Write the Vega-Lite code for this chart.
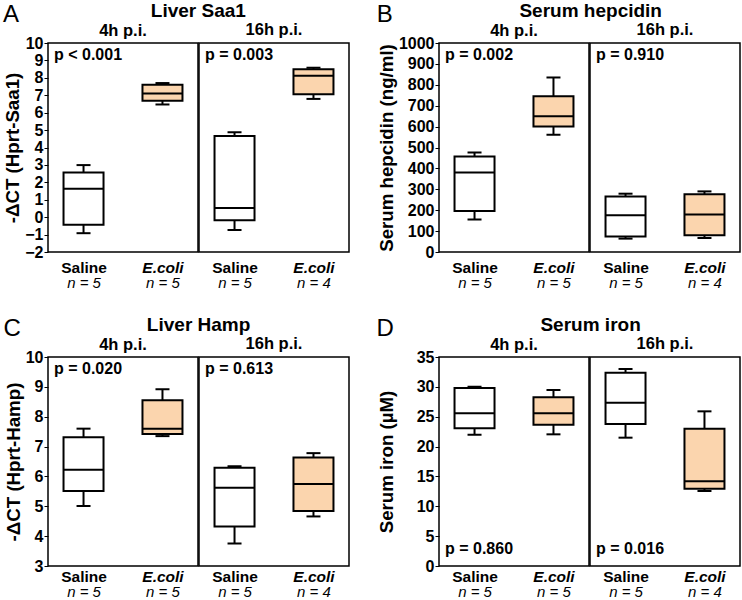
{
 "$schema": "https://vega.github.io/schema/vega-lite/v6.json",
 "padding": {"left": 3, "top": 1, "right": 0, "bottom": 0},
 "config": {
  "font": "Liberation Sans",
  "view": {"stroke": "black", "strokeWidth": 1.5},
  "axis": {"labelColor": "black", "titleColor": "black", "tickColor": "black", "grid": false},
  "title": {"color": "black"}
 },
 "datasets": {
  "boxes": [
   {"panel": "A", "time": "4h", "group": "Saline", "n": 5, "min": -0.92, "q1": -0.43, "median": 1.63, "q3": 2.57, "max": 2.99},
   {"panel": "A", "time": "4h", "group": "E.coli", "n": 5, "min": 6.47, "q1": 6.68, "median": 7.10, "q3": 7.60, "max": 7.70},
   {"panel": "A", "time": "16h", "group": "Saline", "n": 5, "min": -0.73, "q1": -0.18, "median": 0.53, "q3": 4.66, "max": 4.87},
   {"panel": "A", "time": "16h", "group": "E.coli", "n": 4, "min": 6.79, "q1": 7.06, "median": 8.12, "q3": 8.50, "max": 8.58},
   {"panel": "B", "time": "4h", "group": "Saline", "n": 5, "min": 155, "q1": 196, "median": 380, "q3": 457, "max": 476},
   {"panel": "B", "time": "4h", "group": "E.coli", "n": 5, "min": 561, "q1": 601, "median": 649, "q3": 745, "max": 835},
   {"panel": "B", "time": "16h", "group": "Saline", "n": 5, "min": 64, "q1": 74, "median": 176, "q3": 266, "max": 279},
   {"panel": "B", "time": "16h", "group": "E.coli", "n": 4, "min": 67, "q1": 80, "median": 179, "q3": 276, "max": 290},
   {"panel": "C", "time": "4h", "group": "Saline", "n": 5, "min": 5.01, "q1": 5.51, "median": 6.22, "q3": 7.31, "max": 7.60},
   {"panel": "C", "time": "4h", "group": "E.coli", "n": 5, "min": 7.35, "q1": 7.42, "median": 7.60, "q3": 8.55, "max": 8.92},
   {"panel": "C", "time": "16h", "group": "Saline", "n": 5, "min": 3.75, "q1": 4.32, "median": 5.62, "q3": 6.29, "max": 6.34},
   {"panel": "C", "time": "16h", "group": "E.coli", "n": 4, "min": 4.66, "q1": 4.84, "median": 5.75, "q3": 6.63, "max": 6.78},
   {"panel": "D", "time": "4h", "group": "Saline", "n": 5, "min": 22.0, "q1": 23.05, "median": 25.57, "q3": 29.8, "max": 30.0},
   {"panel": "D", "time": "4h", "group": "E.coli", "n": 5, "min": 22.05, "q1": 23.67, "median": 25.57, "q3": 28.25, "max": 29.47},
   {"panel": "D", "time": "16h", "group": "Saline", "n": 5, "min": 21.49, "q1": 23.78, "median": 27.35, "q3": 32.38, "max": 32.99},
   {"panel": "D", "time": "16h", "group": "E.coli", "n": 4, "min": 12.56, "q1": 12.95, "median": 14.18, "q3": 23.0, "max": 25.9}
  ],
  "pvals": [
   {"panel": "A", "time": "4h", "p": "p < 0.001"},
   {"panel": "A", "time": "16h", "p": "p = 0.003"},
   {"panel": "B", "time": "4h", "p": "p = 0.002"},
   {"panel": "B", "time": "16h", "p": "p = 0.910"},
   {"panel": "C", "time": "4h", "p": "p = 0.020"},
   {"panel": "C", "time": "16h", "p": "p = 0.613"},
   {"panel": "D", "time": "4h", "p": "p = 0.860"},
   {"panel": "D", "time": "16h", "p": "p = 0.016"}
  ]
 },
 "spacing": 23,
 "vconcat": [
  {"spacing": 26, "hconcat": [
   {"title": {"text": "A", "anchor": "start", "frame": "bounds", "fontSize": 24, "fontWeight": "normal", "dy": 29},
    "vconcat": [{"title": {"text": "Liver Saa1", "fontSize": 19, "fontWeight": "bold", "anchor": "middle", "offset": 0, "dx": 22},
     "spacing": -1.5,
     "hconcat": [
      {"width": 150, "height": 209, "title": {"text": "4h p.i.", "fontSize": 16.5, "fontWeight": "bold", "offset": -4},
       "data": {"name": "boxes"},
       "transform": [{"filter": "datum.panel == 'A' && datum.time == '4h'"}, {"calculate": "datum.group + '|n = ' + datum.n", "as": "xkey"}],
       "resolve": {"axis": {"x": "independent"}},
       "layer": [
        {"mark": {"type": "rule", "color": "black", "strokeWidth": 2},
         "encoding": {"x": {"field": "xkey", "type": "nominal", "sort": "descending", "scale": {"type": "point", "padding": 0.45}, "axis": {"orient": "bottom", "title": null, "ticks": false, "domain": false, "labelExpr": "split(datum.value, '|')[0]", "labelFontSize": 15.5, "labelFontWeight": "bold", "labelFontStyle": {"condition": {"test": "indexof(datum.value, 'E.coli') == 0", "value": "italic"}, "value": "normal"}, "labelPadding": 8, "labelAngle": 0}},
          "y": {"field": "min", "type": "quantitative", "scale": {"domain": [-2, 10], "nice": false, "zero": false}, "axis": {"title": "-ΔCT (Hprt-Saa1)", "titleFontSize": 18.7, "titleFontWeight": "bold", "titlePadding": 2, "values": [-2, -1, 0, 1, 2, 3, 4, 5, 6, 7, 8, 9, 10], "format": "d", "labelOverlap": false, "labelFontSize": 16, "labelFontWeight": "bold", "tickSize": 4, "domain": false, "labelPadding": 1}},
          "y2": {"field": "max"}}},
        {"mark": {"type": "bar", "size": 40, "stroke": "black", "strokeWidth": 2},
         "encoding": {"x": {"field": "xkey", "type": "nominal", "sort": "descending", "axis": {"orient": "bottom", "title": null, "ticks": false, "domain": false, "labelExpr": "split(datum.value, '|')[1]", "labelFontSize": 15, "labelFontStyle": "italic", "labelFontWeight": "normal", "labelPadding": 23.5, "labelAngle": 0}},
          "y": {"field": "q1", "type": "quantitative", "axis": {"title": "-ΔCT (Hprt-Saa1)", "titleFontSize": 18.7, "titleFontWeight": "bold", "titlePadding": 2, "values": [-2, -1, 0, 1, 2, 3, 4, 5, 6, 7, 8, 9, 10], "format": "d", "labelOverlap": false, "labelFontSize": 16, "labelFontWeight": "bold", "tickSize": 4, "domain": false, "labelPadding": 1}}, "y2": {"field": "q3"},
          "fill": {"field": "group", "type": "nominal", "scale": {"domain": ["Saline", "E.coli"], "range": ["#ffffff", "#fbd5ae"]}, "legend": null}}},
        {"mark": {"type": "tick", "size": 40, "thickness": 2, "color": "black", "opacity": 1},
         "encoding": {"x": {"field": "xkey", "type": "nominal", "sort": "descending", "axis": null}, "y": {"field": "median", "type": "quantitative", "axis": {"title": "-ΔCT (Hprt-Saa1)", "titleFontSize": 18.7, "titleFontWeight": "bold", "titlePadding": 2, "values": [-2, -1, 0, 1, 2, 3, 4, 5, 6, 7, 8, 9, 10], "format": "d", "labelOverlap": false, "labelFontSize": 16, "labelFontWeight": "bold", "tickSize": 4, "domain": false, "labelPadding": 1}}}},
        {"mark": {"type": "tick", "size": 14, "thickness": 2, "color": "black", "opacity": 1},
         "encoding": {"x": {"field": "xkey", "type": "nominal", "sort": "descending", "axis": null}, "y": {"field": "min", "type": "quantitative", "axis": {"title": "-ΔCT (Hprt-Saa1)", "titleFontSize": 18.7, "titleFontWeight": "bold", "titlePadding": 2, "values": [-2, -1, 0, 1, 2, 3, 4, 5, 6, 7, 8, 9, 10], "format": "d", "labelOverlap": false, "labelFontSize": 16, "labelFontWeight": "bold", "tickSize": 4, "domain": false, "labelPadding": 1}}}},
        {"mark": {"type": "tick", "size": 14, "thickness": 2, "color": "black", "opacity": 1},
         "encoding": {"x": {"field": "xkey", "type": "nominal", "sort": "descending", "axis": null}, "y": {"field": "max", "type": "quantitative", "axis": {"title": "-ΔCT (Hprt-Saa1)", "titleFontSize": 18.7, "titleFontWeight": "bold", "titlePadding": 2, "values": [-2, -1, 0, 1, 2, 3, 4, 5, 6, 7, 8, 9, 10], "format": "d", "labelOverlap": false, "labelFontSize": 16, "labelFontWeight": "bold", "tickSize": 4, "domain": false, "labelPadding": 1}}}},
        {"data": {"name": "pvals"}, "transform": [{"filter": "datum.panel == 'A' && datum.time == '4h'"}],
         "mark": {"type": "text", "align": "left", "baseline": "middle", "fontSize": 16, "fontWeight": "bold", "color": "black", "x": 6, "y": 12},
         "encoding": {"text": {"field": "p"}}}
       ]},
      {"width": 150, "height": 209, "title": {"text": "16h p.i.", "fontSize": 16.5, "fontWeight": "bold", "offset": 5},
       "data": {"name": "boxes"},
       "transform": [{"filter": "datum.panel == 'A' && datum.time == '16h'"}, {"calculate": "datum.group + '|n = ' + datum.n", "as": "xkey"}],
       "resolve": {"axis": {"x": "independent"}},
       "layer": [
        {"mark": {"type": "rule", "color": "black", "strokeWidth": 2},
         "encoding": {"x": {"field": "xkey", "type": "nominal", "sort": "descending", "scale": {"type": "point", "padding": 0.45}, "axis": {"orient": "bottom", "title": null, "ticks": false, "domain": false, "labelExpr": "split(datum.value, '|')[0]", "labelFontSize": 15.5, "labelFontWeight": "bold", "labelFontStyle": {"condition": {"test": "indexof(datum.value, 'E.coli') == 0", "value": "italic"}, "value": "normal"}, "labelPadding": 8, "labelAngle": 0}},
          "y": {"field": "min", "type": "quantitative", "scale": {"domain": [-2, 10], "nice": false, "zero": false}, "axis": null},
          "y2": {"field": "max"}}},
        {"mark": {"type": "bar", "size": 40, "stroke": "black", "strokeWidth": 2},
         "encoding": {"x": {"field": "xkey", "type": "nominal", "sort": "descending", "axis": {"orient": "bottom", "title": null, "ticks": false, "domain": false, "labelExpr": "split(datum.value, '|')[1]", "labelFontSize": 15, "labelFontStyle": "italic", "labelFontWeight": "normal", "labelPadding": 23.5, "labelAngle": 0}},
          "y": {"field": "q1", "type": "quantitative", "axis": null}, "y2": {"field": "q3"},
          "fill": {"field": "group", "type": "nominal", "scale": {"domain": ["Saline", "E.coli"], "range": ["#ffffff", "#fbd5ae"]}, "legend": null}}},
        {"mark": {"type": "tick", "size": 40, "thickness": 2, "color": "black", "opacity": 1},
         "encoding": {"x": {"field": "xkey", "type": "nominal", "sort": "descending", "axis": null}, "y": {"field": "median", "type": "quantitative", "axis": null}}},
        {"mark": {"type": "tick", "size": 14, "thickness": 2, "color": "black", "opacity": 1},
         "encoding": {"x": {"field": "xkey", "type": "nominal", "sort": "descending", "axis": null}, "y": {"field": "min", "type": "quantitative", "axis": null}}},
        {"mark": {"type": "tick", "size": 14, "thickness": 2, "color": "black", "opacity": 1},
         "encoding": {"x": {"field": "xkey", "type": "nominal", "sort": "descending", "axis": null}, "y": {"field": "max", "type": "quantitative", "axis": null}}},
        {"data": {"name": "pvals"}, "transform": [{"filter": "datum.panel == 'A' && datum.time == '16h'"}],
         "mark": {"type": "text", "align": "left", "baseline": "middle", "fontSize": 16, "fontWeight": "bold", "color": "black", "x": 6, "y": 12},
         "encoding": {"text": {"field": "p"}}}
       ]}
     ]}]},
   {"title": {"text": "B", "anchor": "start", "frame": "bounds", "fontSize": 24, "fontWeight": "normal", "dy": 29},
    "vconcat": [{"title": {"text": "Serum hepcidin", "fontSize": 19, "fontWeight": "bold", "anchor": "middle", "offset": 0, "dx": 32},
     "spacing": -1.5,
     "hconcat": [
      {"width": 150, "height": 209, "title": {"text": "4h p.i.", "fontSize": 16.5, "fontWeight": "bold", "offset": -4},
       "data": {"name": "boxes"},
       "transform": [{"filter": "datum.panel == 'B' && datum.time == '4h'"}, {"calculate": "datum.group + '|n = ' + datum.n", "as": "xkey"}],
       "resolve": {"axis": {"x": "independent"}},
       "layer": [
        {"mark": {"type": "rule", "color": "black", "strokeWidth": 2},
         "encoding": {"x": {"field": "xkey", "type": "nominal", "sort": "descending", "scale": {"type": "point", "padding": 0.45}, "axis": {"orient": "bottom", "title": null, "ticks": false, "domain": false, "labelExpr": "split(datum.value, '|')[0]", "labelFontSize": 15.5, "labelFontWeight": "bold", "labelFontStyle": {"condition": {"test": "indexof(datum.value, 'E.coli') == 0", "value": "italic"}, "value": "normal"}, "labelPadding": 8, "labelAngle": 0}},
          "y": {"field": "min", "type": "quantitative", "scale": {"domain": [0, 1000], "nice": false, "zero": false}, "axis": {"title": "Serum hepcidin (ng/ml)", "titleFontSize": 18.7, "titleFontWeight": "bold", "titlePadding": 2, "values": [0, 100, 200, 300, 400, 500, 600, 700, 800, 900, 1000], "format": "d", "labelOverlap": false, "labelFontSize": 16, "labelFontWeight": "bold", "tickSize": 4, "domain": false, "labelPadding": 1}},
          "y2": {"field": "max"}}},
        {"mark": {"type": "bar", "size": 40, "stroke": "black", "strokeWidth": 2},
         "encoding": {"x": {"field": "xkey", "type": "nominal", "sort": "descending", "axis": {"orient": "bottom", "title": null, "ticks": false, "domain": false, "labelExpr": "split(datum.value, '|')[1]", "labelFontSize": 15, "labelFontStyle": "italic", "labelFontWeight": "normal", "labelPadding": 23.5, "labelAngle": 0}},
          "y": {"field": "q1", "type": "quantitative", "axis": {"title": "Serum hepcidin (ng/ml)", "titleFontSize": 18.7, "titleFontWeight": "bold", "titlePadding": 2, "values": [0, 100, 200, 300, 400, 500, 600, 700, 800, 900, 1000], "format": "d", "labelOverlap": false, "labelFontSize": 16, "labelFontWeight": "bold", "tickSize": 4, "domain": false, "labelPadding": 1}}, "y2": {"field": "q3"},
          "fill": {"field": "group", "type": "nominal", "scale": {"domain": ["Saline", "E.coli"], "range": ["#ffffff", "#fbd5ae"]}, "legend": null}}},
        {"mark": {"type": "tick", "size": 40, "thickness": 2, "color": "black", "opacity": 1},
         "encoding": {"x": {"field": "xkey", "type": "nominal", "sort": "descending", "axis": null}, "y": {"field": "median", "type": "quantitative", "axis": {"title": "Serum hepcidin (ng/ml)", "titleFontSize": 18.7, "titleFontWeight": "bold", "titlePadding": 2, "values": [0, 100, 200, 300, 400, 500, 600, 700, 800, 900, 1000], "format": "d", "labelOverlap": false, "labelFontSize": 16, "labelFontWeight": "bold", "tickSize": 4, "domain": false, "labelPadding": 1}}}},
        {"mark": {"type": "tick", "size": 14, "thickness": 2, "color": "black", "opacity": 1},
         "encoding": {"x": {"field": "xkey", "type": "nominal", "sort": "descending", "axis": null}, "y": {"field": "min", "type": "quantitative", "axis": {"title": "Serum hepcidin (ng/ml)", "titleFontSize": 18.7, "titleFontWeight": "bold", "titlePadding": 2, "values": [0, 100, 200, 300, 400, 500, 600, 700, 800, 900, 1000], "format": "d", "labelOverlap": false, "labelFontSize": 16, "labelFontWeight": "bold", "tickSize": 4, "domain": false, "labelPadding": 1}}}},
        {"mark": {"type": "tick", "size": 14, "thickness": 2, "color": "black", "opacity": 1},
         "encoding": {"x": {"field": "xkey", "type": "nominal", "sort": "descending", "axis": null}, "y": {"field": "max", "type": "quantitative", "axis": {"title": "Serum hepcidin (ng/ml)", "titleFontSize": 18.7, "titleFontWeight": "bold", "titlePadding": 2, "values": [0, 100, 200, 300, 400, 500, 600, 700, 800, 900, 1000], "format": "d", "labelOverlap": false, "labelFontSize": 16, "labelFontWeight": "bold", "tickSize": 4, "domain": false, "labelPadding": 1}}}},
        {"data": {"name": "pvals"}, "transform": [{"filter": "datum.panel == 'B' && datum.time == '4h'"}],
         "mark": {"type": "text", "align": "left", "baseline": "middle", "fontSize": 16, "fontWeight": "bold", "color": "black", "x": 6, "y": 12},
         "encoding": {"text": {"field": "p"}}}
       ]},
      {"width": 150, "height": 209, "title": {"text": "16h p.i.", "fontSize": 16.5, "fontWeight": "bold", "offset": 5},
       "data": {"name": "boxes"},
       "transform": [{"filter": "datum.panel == 'B' && datum.time == '16h'"}, {"calculate": "datum.group + '|n = ' + datum.n", "as": "xkey"}],
       "resolve": {"axis": {"x": "independent"}},
       "layer": [
        {"mark": {"type": "rule", "color": "black", "strokeWidth": 2},
         "encoding": {"x": {"field": "xkey", "type": "nominal", "sort": "descending", "scale": {"type": "point", "padding": 0.45}, "axis": {"orient": "bottom", "title": null, "ticks": false, "domain": false, "labelExpr": "split(datum.value, '|')[0]", "labelFontSize": 15.5, "labelFontWeight": "bold", "labelFontStyle": {"condition": {"test": "indexof(datum.value, 'E.coli') == 0", "value": "italic"}, "value": "normal"}, "labelPadding": 8, "labelAngle": 0}},
          "y": {"field": "min", "type": "quantitative", "scale": {"domain": [0, 1000], "nice": false, "zero": false}, "axis": null},
          "y2": {"field": "max"}}},
        {"mark": {"type": "bar", "size": 40, "stroke": "black", "strokeWidth": 2},
         "encoding": {"x": {"field": "xkey", "type": "nominal", "sort": "descending", "axis": {"orient": "bottom", "title": null, "ticks": false, "domain": false, "labelExpr": "split(datum.value, '|')[1]", "labelFontSize": 15, "labelFontStyle": "italic", "labelFontWeight": "normal", "labelPadding": 23.5, "labelAngle": 0}},
          "y": {"field": "q1", "type": "quantitative", "axis": null}, "y2": {"field": "q3"},
          "fill": {"field": "group", "type": "nominal", "scale": {"domain": ["Saline", "E.coli"], "range": ["#ffffff", "#fbd5ae"]}, "legend": null}}},
        {"mark": {"type": "tick", "size": 40, "thickness": 2, "color": "black", "opacity": 1},
         "encoding": {"x": {"field": "xkey", "type": "nominal", "sort": "descending", "axis": null}, "y": {"field": "median", "type": "quantitative", "axis": null}}},
        {"mark": {"type": "tick", "size": 14, "thickness": 2, "color": "black", "opacity": 1},
         "encoding": {"x": {"field": "xkey", "type": "nominal", "sort": "descending", "axis": null}, "y": {"field": "min", "type": "quantitative", "axis": null}}},
        {"mark": {"type": "tick", "size": 14, "thickness": 2, "color": "black", "opacity": 1},
         "encoding": {"x": {"field": "xkey", "type": "nominal", "sort": "descending", "axis": null}, "y": {"field": "max", "type": "quantitative", "axis": null}}},
        {"data": {"name": "pvals"}, "transform": [{"filter": "datum.panel == 'B' && datum.time == '16h'"}],
         "mark": {"type": "text", "align": "left", "baseline": "middle", "fontSize": 16, "fontWeight": "bold", "color": "black", "x": 6, "y": 12},
         "encoding": {"text": {"field": "p"}}}
       ]}
     ]}]}
  ]},
  {"spacing": 26, "hconcat": [
   {"title": {"text": "C", "anchor": "start", "frame": "bounds", "fontSize": 24, "fontWeight": "normal", "dy": 29},
    "vconcat": [{"title": {"text": "Liver Hamp", "fontSize": 19, "fontWeight": "bold", "anchor": "middle", "offset": 0, "dx": 22},
     "spacing": -1.5,
     "hconcat": [
      {"width": 150, "height": 209, "title": {"text": "4h p.i.", "fontSize": 16.5, "fontWeight": "bold", "offset": -4},
       "data": {"name": "boxes"},
       "transform": [{"filter": "datum.panel == 'C' && datum.time == '4h'"}, {"calculate": "datum.group + '|n = ' + datum.n", "as": "xkey"}],
       "resolve": {"axis": {"x": "independent"}},
       "layer": [
        {"mark": {"type": "rule", "color": "black", "strokeWidth": 2},
         "encoding": {"x": {"field": "xkey", "type": "nominal", "sort": "descending", "scale": {"type": "point", "padding": 0.45}, "axis": {"orient": "bottom", "title": null, "ticks": false, "domain": false, "labelExpr": "split(datum.value, '|')[0]", "labelFontSize": 15.5, "labelFontWeight": "bold", "labelFontStyle": {"condition": {"test": "indexof(datum.value, 'E.coli') == 0", "value": "italic"}, "value": "normal"}, "labelPadding": 3, "labelAngle": 0}},
          "y": {"field": "min", "type": "quantitative", "scale": {"domain": [3, 10], "nice": false, "zero": false}, "axis": {"title": "-ΔCT (Hprt-Hamp)", "titleFontSize": 18.7, "titleFontWeight": "bold", "titlePadding": 2, "values": [3, 4, 5, 6, 7, 8, 9, 10], "format": "d", "labelOverlap": false, "labelFontSize": 16, "labelFontWeight": "bold", "tickSize": 4, "domain": false, "labelPadding": 1}},
          "y2": {"field": "max"}}},
        {"mark": {"type": "bar", "size": 40, "stroke": "black", "strokeWidth": 2},
         "encoding": {"x": {"field": "xkey", "type": "nominal", "sort": "descending", "axis": {"orient": "bottom", "title": null, "ticks": false, "domain": false, "labelExpr": "split(datum.value, '|')[1]", "labelFontSize": 15, "labelFontStyle": "italic", "labelFontWeight": "normal", "labelPadding": 18.5, "labelAngle": 0}},
          "y": {"field": "q1", "type": "quantitative", "axis": {"title": "-ΔCT (Hprt-Hamp)", "titleFontSize": 18.7, "titleFontWeight": "bold", "titlePadding": 2, "values": [3, 4, 5, 6, 7, 8, 9, 10], "format": "d", "labelOverlap": false, "labelFontSize": 16, "labelFontWeight": "bold", "tickSize": 4, "domain": false, "labelPadding": 1}}, "y2": {"field": "q3"},
          "fill": {"field": "group", "type": "nominal", "scale": {"domain": ["Saline", "E.coli"], "range": ["#ffffff", "#fbd5ae"]}, "legend": null}}},
        {"mark": {"type": "tick", "size": 40, "thickness": 2, "color": "black", "opacity": 1},
         "encoding": {"x": {"field": "xkey", "type": "nominal", "sort": "descending", "axis": null}, "y": {"field": "median", "type": "quantitative", "axis": {"title": "-ΔCT (Hprt-Hamp)", "titleFontSize": 18.7, "titleFontWeight": "bold", "titlePadding": 2, "values": [3, 4, 5, 6, 7, 8, 9, 10], "format": "d", "labelOverlap": false, "labelFontSize": 16, "labelFontWeight": "bold", "tickSize": 4, "domain": false, "labelPadding": 1}}}},
        {"mark": {"type": "tick", "size": 14, "thickness": 2, "color": "black", "opacity": 1},
         "encoding": {"x": {"field": "xkey", "type": "nominal", "sort": "descending", "axis": null}, "y": {"field": "min", "type": "quantitative", "axis": {"title": "-ΔCT (Hprt-Hamp)", "titleFontSize": 18.7, "titleFontWeight": "bold", "titlePadding": 2, "values": [3, 4, 5, 6, 7, 8, 9, 10], "format": "d", "labelOverlap": false, "labelFontSize": 16, "labelFontWeight": "bold", "tickSize": 4, "domain": false, "labelPadding": 1}}}},
        {"mark": {"type": "tick", "size": 14, "thickness": 2, "color": "black", "opacity": 1},
         "encoding": {"x": {"field": "xkey", "type": "nominal", "sort": "descending", "axis": null}, "y": {"field": "max", "type": "quantitative", "axis": {"title": "-ΔCT (Hprt-Hamp)", "titleFontSize": 18.7, "titleFontWeight": "bold", "titlePadding": 2, "values": [3, 4, 5, 6, 7, 8, 9, 10], "format": "d", "labelOverlap": false, "labelFontSize": 16, "labelFontWeight": "bold", "tickSize": 4, "domain": false, "labelPadding": 1}}}},
        {"data": {"name": "pvals"}, "transform": [{"filter": "datum.panel == 'C' && datum.time == '4h'"}],
         "mark": {"type": "text", "align": "left", "baseline": "middle", "fontSize": 16, "fontWeight": "bold", "color": "black", "x": 6, "y": 12},
         "encoding": {"text": {"field": "p"}}}
       ]},
      {"width": 150, "height": 209, "title": {"text": "16h p.i.", "fontSize": 16.5, "fontWeight": "bold", "offset": 5},
       "data": {"name": "boxes"},
       "transform": [{"filter": "datum.panel == 'C' && datum.time == '16h'"}, {"calculate": "datum.group + '|n = ' + datum.n", "as": "xkey"}],
       "resolve": {"axis": {"x": "independent"}},
       "layer": [
        {"mark": {"type": "rule", "color": "black", "strokeWidth": 2},
         "encoding": {"x": {"field": "xkey", "type": "nominal", "sort": "descending", "scale": {"type": "point", "padding": 0.45}, "axis": {"orient": "bottom", "title": null, "ticks": false, "domain": false, "labelExpr": "split(datum.value, '|')[0]", "labelFontSize": 15.5, "labelFontWeight": "bold", "labelFontStyle": {"condition": {"test": "indexof(datum.value, 'E.coli') == 0", "value": "italic"}, "value": "normal"}, "labelPadding": 3, "labelAngle": 0}},
          "y": {"field": "min", "type": "quantitative", "scale": {"domain": [3, 10], "nice": false, "zero": false}, "axis": null},
          "y2": {"field": "max"}}},
        {"mark": {"type": "bar", "size": 40, "stroke": "black", "strokeWidth": 2},
         "encoding": {"x": {"field": "xkey", "type": "nominal", "sort": "descending", "axis": {"orient": "bottom", "title": null, "ticks": false, "domain": false, "labelExpr": "split(datum.value, '|')[1]", "labelFontSize": 15, "labelFontStyle": "italic", "labelFontWeight": "normal", "labelPadding": 18.5, "labelAngle": 0}},
          "y": {"field": "q1", "type": "quantitative", "axis": null}, "y2": {"field": "q3"},
          "fill": {"field": "group", "type": "nominal", "scale": {"domain": ["Saline", "E.coli"], "range": ["#ffffff", "#fbd5ae"]}, "legend": null}}},
        {"mark": {"type": "tick", "size": 40, "thickness": 2, "color": "black", "opacity": 1},
         "encoding": {"x": {"field": "xkey", "type": "nominal", "sort": "descending", "axis": null}, "y": {"field": "median", "type": "quantitative", "axis": null}}},
        {"mark": {"type": "tick", "size": 14, "thickness": 2, "color": "black", "opacity": 1},
         "encoding": {"x": {"field": "xkey", "type": "nominal", "sort": "descending", "axis": null}, "y": {"field": "min", "type": "quantitative", "axis": null}}},
        {"mark": {"type": "tick", "size": 14, "thickness": 2, "color": "black", "opacity": 1},
         "encoding": {"x": {"field": "xkey", "type": "nominal", "sort": "descending", "axis": null}, "y": {"field": "max", "type": "quantitative", "axis": null}}},
        {"data": {"name": "pvals"}, "transform": [{"filter": "datum.panel == 'C' && datum.time == '16h'"}],
         "mark": {"type": "text", "align": "left", "baseline": "middle", "fontSize": 16, "fontWeight": "bold", "color": "black", "x": 6, "y": 12},
         "encoding": {"text": {"field": "p"}}}
       ]}
     ]}]},
   {"title": {"text": "D", "anchor": "start", "frame": "bounds", "fontSize": 24, "fontWeight": "normal", "dy": 29},
    "vconcat": [{"title": {"text": "Serum iron", "fontSize": 19, "fontWeight": "bold", "anchor": "middle", "offset": 0, "dx": 32},
     "spacing": -1.5,
     "hconcat": [
      {"width": 150, "height": 209, "title": {"text": "4h p.i.", "fontSize": 16.5, "fontWeight": "bold", "offset": -4},
       "data": {"name": "boxes"},
       "transform": [{"filter": "datum.panel == 'D' && datum.time == '4h'"}, {"calculate": "datum.group + '|n = ' + datum.n", "as": "xkey"}],
       "resolve": {"axis": {"x": "independent"}},
       "layer": [
        {"mark": {"type": "rule", "color": "black", "strokeWidth": 2},
         "encoding": {"x": {"field": "xkey", "type": "nominal", "sort": "descending", "scale": {"type": "point", "padding": 0.45}, "axis": {"orient": "bottom", "title": null, "ticks": false, "domain": false, "labelExpr": "split(datum.value, '|')[0]", "labelFontSize": 15.5, "labelFontWeight": "bold", "labelFontStyle": {"condition": {"test": "indexof(datum.value, 'E.coli') == 0", "value": "italic"}, "value": "normal"}, "labelPadding": 3, "labelAngle": 0}},
          "y": {"field": "min", "type": "quantitative", "scale": {"domain": [0, 35], "nice": false, "zero": false}, "axis": {"title": "Serum iron (µM)", "titleFontSize": 18.7, "titleFontWeight": "bold", "titlePadding": 20, "values": [0, 5, 10, 15, 20, 25, 30, 35], "format": "d", "labelOverlap": false, "labelFontSize": 16, "labelFontWeight": "bold", "tickSize": 4, "domain": false, "labelPadding": 1}},
          "y2": {"field": "max"}}},
        {"mark": {"type": "bar", "size": 40, "stroke": "black", "strokeWidth": 2},
         "encoding": {"x": {"field": "xkey", "type": "nominal", "sort": "descending", "axis": {"orient": "bottom", "title": null, "ticks": false, "domain": false, "labelExpr": "split(datum.value, '|')[1]", "labelFontSize": 15, "labelFontStyle": "italic", "labelFontWeight": "normal", "labelPadding": 18.5, "labelAngle": 0}},
          "y": {"field": "q1", "type": "quantitative", "axis": {"title": "Serum iron (µM)", "titleFontSize": 18.7, "titleFontWeight": "bold", "titlePadding": 20, "values": [0, 5, 10, 15, 20, 25, 30, 35], "format": "d", "labelOverlap": false, "labelFontSize": 16, "labelFontWeight": "bold", "tickSize": 4, "domain": false, "labelPadding": 1}}, "y2": {"field": "q3"},
          "fill": {"field": "group", "type": "nominal", "scale": {"domain": ["Saline", "E.coli"], "range": ["#ffffff", "#fbd5ae"]}, "legend": null}}},
        {"mark": {"type": "tick", "size": 40, "thickness": 2, "color": "black", "opacity": 1},
         "encoding": {"x": {"field": "xkey", "type": "nominal", "sort": "descending", "axis": null}, "y": {"field": "median", "type": "quantitative", "axis": {"title": "Serum iron (µM)", "titleFontSize": 18.7, "titleFontWeight": "bold", "titlePadding": 20, "values": [0, 5, 10, 15, 20, 25, 30, 35], "format": "d", "labelOverlap": false, "labelFontSize": 16, "labelFontWeight": "bold", "tickSize": 4, "domain": false, "labelPadding": 1}}}},
        {"mark": {"type": "tick", "size": 14, "thickness": 2, "color": "black", "opacity": 1},
         "encoding": {"x": {"field": "xkey", "type": "nominal", "sort": "descending", "axis": null}, "y": {"field": "min", "type": "quantitative", "axis": {"title": "Serum iron (µM)", "titleFontSize": 18.7, "titleFontWeight": "bold", "titlePadding": 20, "values": [0, 5, 10, 15, 20, 25, 30, 35], "format": "d", "labelOverlap": false, "labelFontSize": 16, "labelFontWeight": "bold", "tickSize": 4, "domain": false, "labelPadding": 1}}}},
        {"mark": {"type": "tick", "size": 14, "thickness": 2, "color": "black", "opacity": 1},
         "encoding": {"x": {"field": "xkey", "type": "nominal", "sort": "descending", "axis": null}, "y": {"field": "max", "type": "quantitative", "axis": {"title": "Serum iron (µM)", "titleFontSize": 18.7, "titleFontWeight": "bold", "titlePadding": 20, "values": [0, 5, 10, 15, 20, 25, 30, 35], "format": "d", "labelOverlap": false, "labelFontSize": 16, "labelFontWeight": "bold", "tickSize": 4, "domain": false, "labelPadding": 1}}}},
        {"data": {"name": "pvals"}, "transform": [{"filter": "datum.panel == 'D' && datum.time == '4h'"}],
         "mark": {"type": "text", "align": "left", "baseline": "middle", "fontSize": 16, "fontWeight": "bold", "color": "black", "x": 6, "y": 192},
         "encoding": {"text": {"field": "p"}}}
       ]},
      {"width": 150, "height": 209, "title": {"text": "16h p.i.", "fontSize": 16.5, "fontWeight": "bold", "offset": 5},
       "data": {"name": "boxes"},
       "transform": [{"filter": "datum.panel == 'D' && datum.time == '16h'"}, {"calculate": "datum.group + '|n = ' + datum.n", "as": "xkey"}],
       "resolve": {"axis": {"x": "independent"}},
       "layer": [
        {"mark": {"type": "rule", "color": "black", "strokeWidth": 2},
         "encoding": {"x": {"field": "xkey", "type": "nominal", "sort": "descending", "scale": {"type": "point", "padding": 0.45}, "axis": {"orient": "bottom", "title": null, "ticks": false, "domain": false, "labelExpr": "split(datum.value, '|')[0]", "labelFontSize": 15.5, "labelFontWeight": "bold", "labelFontStyle": {"condition": {"test": "indexof(datum.value, 'E.coli') == 0", "value": "italic"}, "value": "normal"}, "labelPadding": 3, "labelAngle": 0}},
          "y": {"field": "min", "type": "quantitative", "scale": {"domain": [0, 35], "nice": false, "zero": false}, "axis": null},
          "y2": {"field": "max"}}},
        {"mark": {"type": "bar", "size": 40, "stroke": "black", "strokeWidth": 2},
         "encoding": {"x": {"field": "xkey", "type": "nominal", "sort": "descending", "axis": {"orient": "bottom", "title": null, "ticks": false, "domain": false, "labelExpr": "split(datum.value, '|')[1]", "labelFontSize": 15, "labelFontStyle": "italic", "labelFontWeight": "normal", "labelPadding": 18.5, "labelAngle": 0}},
          "y": {"field": "q1", "type": "quantitative", "axis": null}, "y2": {"field": "q3"},
          "fill": {"field": "group", "type": "nominal", "scale": {"domain": ["Saline", "E.coli"], "range": ["#ffffff", "#fbd5ae"]}, "legend": null}}},
        {"mark": {"type": "tick", "size": 40, "thickness": 2, "color": "black", "opacity": 1},
         "encoding": {"x": {"field": "xkey", "type": "nominal", "sort": "descending", "axis": null}, "y": {"field": "median", "type": "quantitative", "axis": null}}},
        {"mark": {"type": "tick", "size": 14, "thickness": 2, "color": "black", "opacity": 1},
         "encoding": {"x": {"field": "xkey", "type": "nominal", "sort": "descending", "axis": null}, "y": {"field": "min", "type": "quantitative", "axis": null}}},
        {"mark": {"type": "tick", "size": 14, "thickness": 2, "color": "black", "opacity": 1},
         "encoding": {"x": {"field": "xkey", "type": "nominal", "sort": "descending", "axis": null}, "y": {"field": "max", "type": "quantitative", "axis": null}}},
        {"data": {"name": "pvals"}, "transform": [{"filter": "datum.panel == 'D' && datum.time == '16h'"}],
         "mark": {"type": "text", "align": "left", "baseline": "middle", "fontSize": 16, "fontWeight": "bold", "color": "black", "x": 6, "y": 192},
         "encoding": {"text": {"field": "p"}}}
       ]}
     ]}]}
  ]}
 ]
}
